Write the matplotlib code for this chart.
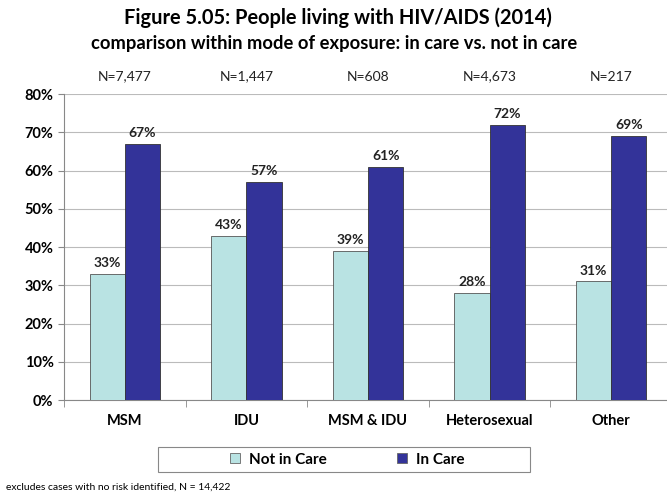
import numpy as np
import matplotlib.pyplot as plt
from matplotlib.patches import Rectangle
from matplotlib.ticker import FuncFormatter

plt.rcParams["font.family"] = ["Lato", "DejaVu Sans"]

categories = ["MSM", "IDU", "MSM & IDU", "Heterosexual", "Other"]
n_labels = ["N=7,477", "N=1,447", "N=608", "N=4,673", "N=217"]
not_in_care = [33, 43, 39, 28, 31]
in_care = [67, 57, 61, 72, 69]

LIGHT = "#B9E3E3"
DARK = "#333399"

fig = plt.figure(figsize=(6.67, 4.97), dpi=100)
ax = fig.add_axes([64 / 667, 1 - 400 / 497, 608 / 667, 306 / 497])

x = np.arange(len(categories))
w = 0.29
b1 = ax.bar(x - w / 2, not_in_care, w, color=LIGHT, edgecolor="#555555", linewidth=0.6, label="Not in Care", zorder=3)
b2 = ax.bar(x + w / 2, in_care, w, color=DARK, edgecolor="#333333", linewidth=0.6, label="In Care", zorder=3)

for bars, vals in ((b1, not_in_care), (b2, in_care)):
    for r, v in zip(bars, vals):
        ax.text(r.get_x() + r.get_width() / 2, v + 1.2, f"{v}%", ha="center", va="bottom",
                fontsize=10, fontweight="bold", color="#222222")

for xi, n in zip(x, n_labels):
    ax.text(xi, 83, n, ha="center", va="bottom", fontsize=10, color="#222222")

ax.set_ylim(0, 80)
ax.set_xlim(-0.5, 4.5)
ax.set_yticks(range(0, 81, 10))
ax.yaxis.set_major_formatter(FuncFormatter(lambda v, p: f"{int(v)}%"))
ax.grid(axis="y", color="#BBBBBB", linewidth=0.8, zorder=0)
ax.set_xticks(x)
ax.set_xticklabels(categories, fontsize=10.5, fontweight="bold")
ax.set_xticks(np.arange(-0.5, 5, 1), minor=True)
ax.tick_params(axis="x", which="major", length=0, pad=10)
ax.tick_params(axis="x", which="minor", length=5, color="#888888")
ax.tick_params(axis="y", length=4, color="#888888", labelsize=10.5)
for lab in ax.get_yticklabels():
    lab.set_fontweight("bold")
for s in ["top", "right"]:
    ax.spines[s].set_visible(False)
ax.spines["left"].set_color("#888888")
ax.spines["bottom"].set_color("#888888")

fig.text(338 / 667, 1 - 18 / 497, "Figure 5.05: People living with HIV/AIDS (2014)", ha="center", va="center",
         fontsize=14.4, fontweight="bold")
fig.text(334 / 667, 1 - 43 / 497, "comparison within mode of exposure: in care vs. not in care", ha="center", va="center",
         fontsize=13.2, fontweight="bold")

# legend box drawn separately so it can be wider than the entries
fig.patches.append(Rectangle((158 / 667, 1 - 472 / 497), 372 / 667, 25 / 497, transform=fig.transFigure,
                             facecolor="white", edgecolor="#888888", linewidth=0.8))
leg = fig.legend(handles=[b1, b2], loc="center", bbox_to_anchor=(347 / 667, 1 - 459.5 / 497), ncol=2,
                 frameon=False, columnspacing=4.6, handlelength=0.65, handleheight=0.65, handletextpad=0.6,
                 prop={"size": 11, "weight": "bold"}, borderpad=0.2)
for h in leg.legend_handles:
    h.set_edgecolor("#666666")

fig.text(6 / 667, 1 - 487 / 497, "excludes cases with no risk identified, N = 14,422", ha="left", va="center", fontsize=7.5)

fig.savefig("out.png", dpi=100)
